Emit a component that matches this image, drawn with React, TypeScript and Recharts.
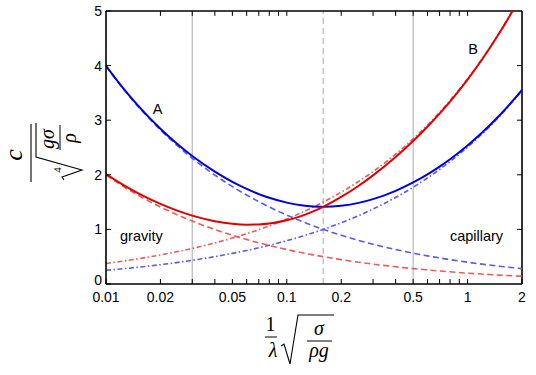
import React from 'react';
import { LineChart, Line, XAxis, YAxis, ReferenceLine, ReferenceDot } from 'recharts';

// x = (1/λ)·sqrt(σ/(ρg)) sample positions
const xValues = [0.01, 0.0125, 0.015, 0.02, 0.025, 0.03, 0.04, 0.05, 0.06, 0.07, 0.08, 0.1, 0.12, 0.14, 0.16, 0.2, 0.25, 0.3, 0.4, 0.5, 0.6, 0.7, 0.8, 1.0, 1.2, 1.5, 1.8, 2.0];
// curve A (blue solid): phase speed
const phaseA = [3.997, 3.579, 3.272, 2.843, 2.554, 2.344, 2.057, 1.87, 1.741, 1.647, 1.579, 1.49, 1.442, 1.42, 1.414, 1.433, 1.486, 1.554, 1.706, 1.86, 2.009, 2.151, 2.286, 2.538, 2.77, 3.087, 3.376, 3.556];
// curve B (red solid): group speed
const groupB = [2.014, 1.812, 1.665, 1.466, 1.339, 1.252, 1.151, 1.103, 1.087, 1.091, 1.108, 1.167, 1.244, 1.33, 1.418, 1.594, 1.8, 1.99, 2.326, 2.619, 2.881, 3.12, 3.342, 3.745, 4.107, 4.596, 5.038, 5.312];
// blue dashed: gravity-limit phase speed
const phaseGravity = [3.989, 3.568, 3.257, 2.821, 2.523, 2.303, 1.995, 1.784, 1.629, 1.508, 1.41, 1.262, 1.152, 1.066, 0.997, 0.892, 0.798, 0.728, 0.631, 0.564, 0.515, 0.477, 0.446, 0.399, 0.364, 0.326, 0.297, 0.282];
// blue dash-dot: capillary-limit phase speed
const phaseCapillary = [0.251, 0.28, 0.307, 0.354, 0.396, 0.434, 0.501, 0.561, 0.614, 0.663, 0.709, 0.793, 0.868, 0.938, 1.003, 1.121, 1.253, 1.373, 1.585, 1.772, 1.942, 2.097, 2.242, 2.507, 2.746, 3.07, 3.363, 3.545];
// red dashed: gravity-limit group speed
const groupGravity = [1.995, 1.784, 1.629, 1.41, 1.262, 1.152, 0.997, 0.892, 0.814, 0.754, 0.705, 0.631, 0.576, 0.533, 0.499, 0.446, 0.399, 0.364, 0.315, 0.282, 0.258, 0.238, 0.223, 0.199, 0.182, 0.163, 0.149, 0.141];
// red dash-dot: capillary-limit group speed
const groupCapillary = [0.376, 0.42, 0.461, 0.532, 0.595, 0.651, 0.752, 0.841, 0.921, 0.995, 1.064, 1.189, 1.303, 1.407, 1.504, 1.682, 1.88, 2.059, 2.378, 2.659, 2.912, 3.146, 3.363, 3.76, 4.119, 4.605, 5.045, 5.317];

const xTicks = [0.01, 0.02, 0.03, 0.04, 0.05, 0.06, 0.07, 0.08, 0.09, 0.1, 0.2, 0.3, 0.4, 0.5, 0.6, 0.7, 0.8, 0.9, 1, 2];
const xTickLabels = [0.01, 0.02, 0.05, 0.1, 0.2, 0.5, 1, 2];
const yTicks = [0, 1, 2, 3, 4, 5];
const xDomain = [0.01, 2];
const yDomain = [0, 5];

const solidGrayLines = [0.03, 0.5];
const dashedGrayLines = [0.159];

const annotText = ['A', 'B', 'gravity', 'capillary'];
const annotX = [0.0193, 1.072, 0.0157, 1.121];
const annotY = [3.21, 4.31, 0.88, 0.88];

// inward tick lengths for the top and right edges, in axis units (~5 px)
const TOP_TICK_Y = 0.09;
const RIGHT_TICK_FACTOR = 0.938;

const data = xValues.map((x, i) => ({
  x,
  phaseA: phaseA[i],
  groupB: groupB[i],
  phaseGravity: phaseGravity[i],
  phaseCapillary: phaseCapillary[i],
  groupGravity: groupGravity[i],
  groupCapillary: groupCapillary[i],
}));

const SANS = '"Liberation Sans", Arial, Helvetica, sans-serif';
const SERIF = '"Liberation Serif", "Times New Roman", serif';

const BLUE = '#0000dc';
const RED = '#e00000';
const BLUE_L = '#5a5ae6';
const RED_L = '#ec5a5a';
const DASH = '6 3.5';
const DASHDOT = '5 2.5 1.5 2.5';
const TICK_LEN = 5;

const BottomTick = (props: any) => {
  const { x, y, payload } = props;
  const v = payload.value;
  return (
    <g>
      <line x1={x} x2={x} y1={y} y2={y - TICK_LEN} stroke="#000" strokeWidth={1} />
      {xTickLabels.includes(v) && (
        <text x={x} y={y + 18} textAnchor="middle" fontSize={14} fontFamily={SANS} fill="#000">
          {String(v)}
        </text>
      )}
    </g>
  );
};

const LeftTick = (props: any) => {
  const { x, y, payload } = props;
  const v = payload.value;
  return (
    <g>
      <line x1={x} x2={x + TICK_LEN} y1={y} y2={y} stroke="#000" strokeWidth={1} />
      <text x={x - 4} y={v === 0 ? y + 1 : y + 5} textAnchor="end" fontSize={14} fontFamily={SANS} fill="#000">
        {String(v)}
      </text>
    </g>
  );
};

// x axis title: (1/λ) √(σ/(ρg)), placed relative to the axis box
const XTitle = (props: any) => {
  const vb = props && props.viewBox ? props.viewBox : { x: 106, y: 284, width: 416, height: 30 };
  const ox = vb.x + vb.width / 2 - 14;
  const oy = vb.y;
  return (
    <g transform={`translate(${ox},${oy})`} fill="#000">
      <text x={-29.5} y={47} textAnchor="middle" fontSize={20} fontFamily={SERIF}>1</text>
      <line x1={-35} x2={-23} y1={53} y2={53} stroke="#000" strokeWidth={1} />
      <text x={-27} y={73} textAnchor="middle" fontSize={20} fontFamily={SERIF} fontStyle="italic">λ</text>
      <path d="M -19 62 L -16 60 L -10 80 L -2 31 L 34 31" fill="none" stroke="#000" strokeWidth={1.1} />
      <text x={19} y={51} textAnchor="middle" fontSize={20} fontFamily={SERIF} fontStyle="italic">σ</text>
      <line x1={7} x2={32} y1={57} y2={57} stroke="#000" strokeWidth={1} />
      <text x={19} y={73} textAnchor="middle" fontSize={20} fontFamily={SERIF} fontStyle="italic">ρg</text>
    </g>
  );
};

// y axis title: c / ⁴√(gσ/ρ), rotated, placed relative to the axis box
const YTitle = (props: any) => {
  const vb = props && props.viewBox ? props.viewBox : { x: 66, y: 11, width: 40, height: 273 };
  const ox = vb.x - 21;
  const oy = vb.y + vb.height / 2 + 4.5;
  return (
    <g transform={`translate(${ox},${oy}) rotate(-90)`} fill="#000">
      <text x={-3} y={-23} textAnchor="middle" fontSize={26} fontFamily={SERIF} fontStyle="italic">c</text>
      <line x1={-30} x2={28} y1={-14} y2={-14} stroke="#000" strokeWidth={1.1} />
      <path d="M -28 19 L -25 17 L -18 37 L -5 -9 L 29 -9" fill="none" stroke="#000" strokeWidth={1.1} />
      <text x={-18} y={16} textAnchor="middle" fontSize={11} fontFamily={SERIF}>4</text>
      <text x={13} y={9} textAnchor="middle" fontSize={20} fontFamily={SERIF} fontStyle="italic">gσ</text>
      <line x1={2} x2={27} y1={15} y2={15} stroke="#000" strokeWidth={1} />
      <text x={14} y={31} textAnchor="middle" fontSize={20} fontFamily={SERIF} fontStyle="italic">ρ</text>
    </g>
  );
};

export default function App() {
  return (
    <div style={{ position: 'absolute', left: 0, top: 0, width: 536, height: 375, background: '#fff' }}>
      <LineChart width={536} height={375} data={data} margin={{ top: 11, right: 14, bottom: 61, left: 66 }}>
        <XAxis
          xAxisId="x"
          dataKey="x"
          type="number"
          scale="log"
          domain={xDomain}
          allowDataOverflow
          ticks={xTicks}
          interval={0}
          height={30}
          tickSize={0}
          tickMargin={0}
          tickLine={false}
          axisLine={{ stroke: '#000', strokeWidth: 1.6 }}
          tick={BottomTick}
          label={{ content: XTitle }}
        />
        <YAxis
          yAxisId="y"
          type="number"
          domain={yDomain}
          allowDataOverflow
          ticks={yTicks}
          interval={0}
          width={40}
          tickSize={0}
          tickMargin={0}
          tickLine={false}
          axisLine={{ stroke: '#000', strokeWidth: 1.6 }}
          tick={LeftTick}
          label={{ content: YTitle }}
        />
        {solidGrayLines.map((v) => (
          <ReferenceLine key={'s' + v} xAxisId="x" yAxisId="y" x={v} stroke="#bdbdbd" strokeWidth={1.3} />
        ))}
        {dashedGrayLines.map((v) => (
          <ReferenceLine key={'d' + v} xAxisId="x" yAxisId="y" x={v} stroke="#bdbdbd" strokeWidth={1.3} strokeDasharray="6 4" />
        ))}
        {/* box frame: top and right edges */}
        <ReferenceLine xAxisId="x" yAxisId="y" y={yDomain[1]} stroke="#000" strokeWidth={1.6} />
        <ReferenceLine xAxisId="x" yAxisId="y" x={xDomain[1]} stroke="#000" strokeWidth={1.6} />
        {/* inward ticks on the top edge */}
        {xTicks.slice(1, -1).map((v) => (
          <ReferenceLine
            key={'tt' + v}
            xAxisId="x"
            yAxisId="y"
            segment={[{ x: v, y: yDomain[1] }, { x: v, y: yDomain[1] - TOP_TICK_Y }]}
            stroke="#000"
            strokeWidth={1}
          />
        ))}
        {/* inward ticks on the right edge */}
        {yTicks.slice(1, -1).map((v) => (
          <ReferenceLine
            key={'rt' + v}
            xAxisId="x"
            yAxisId="y"
            segment={[{ x: xDomain[1], y: v }, { x: xDomain[1] * RIGHT_TICK_FACTOR, y: v }]}
            stroke="#000"
            strokeWidth={1}
          />
        ))}
        <Line xAxisId="x" yAxisId="y" type="monotone" dataKey="groupCapillary" stroke={RED_L} strokeWidth={1.6} strokeDasharray={DASHDOT} dot={false} activeDot={false} isAnimationActive={false} />
        <Line xAxisId="x" yAxisId="y" type="monotone" dataKey="phaseCapillary" stroke={BLUE_L} strokeWidth={1.6} strokeDasharray={DASHDOT} dot={false} activeDot={false} isAnimationActive={false} />
        <Line xAxisId="x" yAxisId="y" type="monotone" dataKey="groupGravity" stroke={RED_L} strokeWidth={1.6} strokeDasharray={DASH} dot={false} activeDot={false} isAnimationActive={false} />
        <Line xAxisId="x" yAxisId="y" type="monotone" dataKey="phaseGravity" stroke={BLUE_L} strokeWidth={1.6} strokeDasharray={DASH} dot={false} activeDot={false} isAnimationActive={false} />
        <Line xAxisId="x" yAxisId="y" type="monotone" dataKey="phaseA" stroke={BLUE} strokeWidth={2} dot={false} activeDot={false} isAnimationActive={false} />
        <Line xAxisId="x" yAxisId="y" type="monotone" dataKey="groupB" stroke={RED} strokeWidth={2} dot={false} activeDot={false} isAnimationActive={false} />
        {annotText.map((t, i) => (
          <ReferenceDot
            key={t}
            xAxisId="x"
            yAxisId="y"
            x={annotX[i]}
            y={annotY[i]}
            r={0}
            fill="none"
            stroke="none"
            label={{ value: t, position: 'center', fontSize: 14.5, fill: '#000', fontFamily: SANS }}
          />
        ))}
      </LineChart>
    </div>
  );
}
